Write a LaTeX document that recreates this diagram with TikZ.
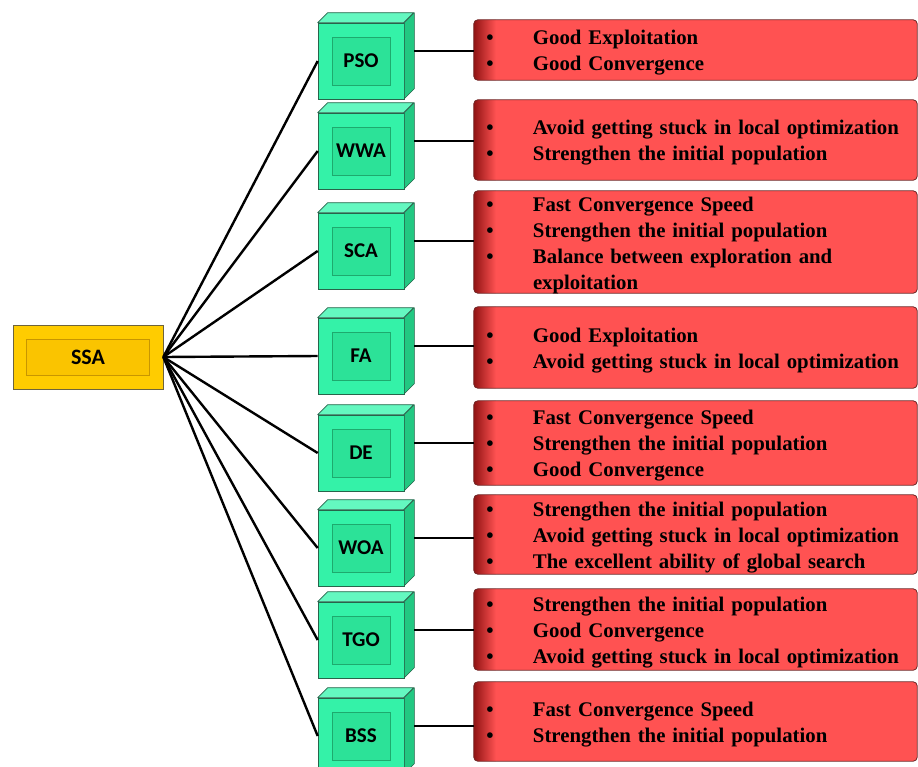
\documentclass[tikz,border=0pt]{standalone}
\usepackage{fontspec}
\setmainfont{Liberation Serif}
\newfontfamily\labelfont{Carlito}
\usetikzlibrary{backgrounds}

\definecolor{boxred}{RGB}{255,82,82}
\definecolor{boxredline}{RGB}{110,40,40}
\definecolor{boxredshade}{RGB}{145,20,20}
\definecolor{cubefront}{RGB}{52,242,168}
\definecolor{cubeinner}{RGB}{44,226,152}
\definecolor{cubepanelline}{RGB}{30,170,110}
\definecolor{cubetop}{RGB}{100,248,192}
\definecolor{cubeside}{RGB}{34,200,130}
\definecolor{cubeline}{RGB}{40,100,75}
\definecolor{ssagold}{RGB}{255,204,0}
\definecolor{ssainner}{RGB}{250,196,0}
\definecolor{ssapanelline}{RGB}{200,150,0}
\definecolor{ssaline}{RGB}{110,100,60}

\tikzset{
  link/.style={line width=2.4pt, black},
  facelink/.style={line width=2pt, black},
  cubeface/.style={draw=cubeline, line width=0.6pt, fill=cubefront,
    minimum width=86pt, minimum height=76pt, inner sep=0pt},
  cubepanel/.style={draw=cubepanelline, line width=0.8pt, fill=cubeinner,
    minimum width=58pt, minimum height=48pt, inner sep=0pt,
    font=\labelfont\bfseries\fontsize{21}{24}\selectfont},
  ssabox/.style={draw=ssaline, line width=0.7pt, fill=ssagold,
    minimum width=150pt, minimum height=64pt, inner sep=0pt},
  ssapanel/.style={draw=ssapanelline, line width=0.8pt, fill=ssainner,
    minimum width=123pt, minimum height=36pt, inner sep=0pt,
    font=\labelfont\bfseries\fontsize{22}{24}\selectfont},
  notes/.style={text width=419pt, inner xsep=12pt, inner ysep=0pt, align=left,
    font=\bfseries\fontsize{20.8}{26}\selectfont},
}

% bullet column: dot centred 4pt in, text starts 47pt in
\newcommand\bul{\makebox[47pt][l]{\makebox[8pt]{\textbullet}}}

% green block: name, y of the front face top edge, label
\newcommand\cube[3]{%
  \node[cubeface] (#1) at (361,{#2+38}) {};
  \filldraw[fill=cubetop, draw=cubeline, line width=0.6pt, line join=round]
    (#1.north west) -- ++(10,-10) -- ++(86,0) -- ++(-10,10) -- cycle;
  \filldraw[fill=cubeside, draw=cubeline, line width=0.6pt, line join=round]
    (#1.north east) -- ++(10,-10) -- ++(0,76) -- ++(-10,10) -- cycle;
  \node[cubepanel] (#1-panel) at (#1.center) {#3};
  \path (#1.east) ++(10,-10) coordinate (#1-side);
}

% red list box: name, centre y, height, lines
% (the text sits 3pt below the centre of its box)
\newcommand\noterow[4]{%
  \node[notes, minimum height=#3] (#1) at (695.5,{#2+3}) {#4};
  \begin{scope}[on background layer]
    \path ([yshift=3pt]#1.south west) coordinate (#1-a)
          ([yshift=3pt]#1.north east) coordinate (#1-b);
    \path (#1-a |- #1-b) ++(22,0) coordinate (#1-c);
    \fill[boxred, rounded corners=4pt] (#1-a) rectangle (#1-b);
    \begin{scope}
      \clip[rounded corners=4pt] (#1-a) rectangle (#1-b);
      \shade[left color=boxredshade, right color=boxred] (#1-a) rectangle (#1-c);
    \end{scope}
    \draw[boxredline, line width=0.8pt, rounded corners=4pt]
      (#1-a) rectangle (#1-b);
  \end{scope}
}

\begin{document}
\begin{tikzpicture}[x=1pt,y=-1pt]
\useasboundingbox (0,0) rectangle (918,766);
\begin{scope}[on background layer]
  \fill[white] (0,0) rectangle (918,766);
\end{scope}
\clip (0,0) rectangle (918,766);

% root
\node[ssabox] (ssa) at (88,357) {};
\node[ssapanel] (ssa-panel) at (ssa.center) {SSA};

% algorithm blocks
\cube{pso}{23}{PSO}
\cube{wwa}{113}{WWA}
\cube{sca}{213}{SCA}
\cube{fa}{318}{FA}
\cube{de}{415}{DE}
\cube{woa}{510}{WOA}
\cube{tgo}{602}{TGO}
\cube{bss}{698}{BSS}

% property lists
\noterow{pso-n}{50}{60}{\bul Good Exploitation\\\bul Good Convergence}
\noterow{wwa-n}{140}{80}{\bul Avoid getting stuck in local optimization\\\bul Strengthen the initial population}
\noterow{sca-n}{242}{102}{\bul Fast Convergence Speed\\\bul Strengthen the initial population\\\bul Balance between exploration and\\\hspace*{47pt}exploitation}
\noterow{fa-n}{347.5}{81}{\bul Good Exploitation\\\bul Avoid getting stuck in local optimization}
\noterow{de-n}{443}{84}{\bul Fast Convergence Speed\\\bul Strengthen the initial population\\\bul Good Convergence}
\noterow{woa-n}{534.5}{79}{\bul Strengthen the initial population\\\bul Avoid getting stuck in local optimization\\\bul The excellent ability of global search}
\noterow{tgo-n}{629.5}{81}{\bul Strengthen the initial population\\\bul Good Convergence\\\bul Avoid getting stuck in local optimization}
\noterow{bss-n}{721.5}{79}{\bul Fast Convergence Speed\\\bul Strengthen the initial population}

% connectors
\foreach \k in {pso,wwa,sca,fa,de,woa,tgo,bss}{
  \draw[link] (ssa.east) -- (\k.west);
  \draw[facelink] (\k-side) -- (\k-side -| \k-n-a);
}
\end{tikzpicture}
\end{document}
